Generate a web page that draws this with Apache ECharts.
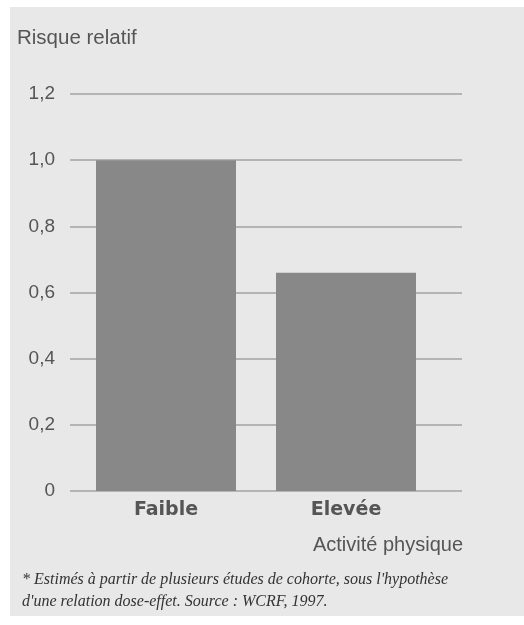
<!DOCTYPE html>
<html>
<head>
<meta charset="utf-8">
<script src="https://cdn.jsdelivr.net/npm/echarts@6/dist/echarts.min.js"></script>
<style>
html,body{margin:0;padding:0;background:#ffffff;}
#c{width:524px;height:625px;}
</style>
</head>
<body>
<div id="c"></div>
<script>
var categories = ['Faible', 'Elevée'];
var risqueRelatif = [1.0, 0.66];
var yMin = 0, yMax = 1.2, yStep = 0.2;
var yTitle = 'Risque relatif';
var xTitle = 'Activité physique';
var footLines = [
  "* Estimés à partir de plusieurs études de cohorte, sous l'hypothèse",
  "d'une relation dose-effet. Source : WCRF, 1997."
];

var chart = echarts.init(document.getElementById('c'), null, {renderer: 'canvas'});
var sans = '"Liberation Sans", Arial, sans-serif';
var serif = '"Liberation Serif", "Times New Roman", serif';
var fmt = function (v) { return v === 0 ? '0' : v.toFixed(1).replace('.', ','); };

chart.setOption({
  backgroundColor: '#ffffff',
  animation: false,
  graphic: [
    {type: 'rect', z: -10, shape: {x: 10, y: 7, width: 514, height: 609}, style: {fill: '#e8e8e8'}},
    {type: 'text', left: 17, top: 28, style: {text: yTitle, font: '20.5px ' + sans, fill: '#555555'}},
    {type: 'text', right: 61, top: 535, style: {text: xTitle, font: '20px ' + sans, fill: '#555555'}},
    {type: 'text', left: 22, top: 572, style: {text: footLines[0], font: 'italic 16px ' + serif, fill: '#333333'}},
    {type: 'text', left: 22, top: 594, style: {text: footLines[1], font: 'italic 16px ' + serif, fill: '#333333'}}
  ],
  grid: [
    {left: 70, right: 62, top: 94, height: 397},
    {left: 76, width: 360, top: 94, height: 397}
  ],
  xAxis: [
    {type: 'category', gridIndex: 0, data: categories, show: false},
    {type: 'category', gridIndex: 1, data: categories,
     axisLine: {show: false}, axisTick: {show: false},
     axisLabel: {margin: 10, color: '#555555', fontFamily: 'DejaVu Sans', fontWeight: 'bold', fontSize: 19}}
  ],
  yAxis: [
    {type: 'value', gridIndex: 0, min: yMin, max: yMax, interval: yStep,
     axisLine: {show: false}, axisTick: {show: false},
     axisLabel: {margin: 15, color: '#555555', fontFamily: sans, fontSize: 19, formatter: fmt},
     splitLine: {show: true, lineStyle: {color: '#a3a3a3', width: 1.5}}},
    {type: 'value', gridIndex: 1, min: yMin, max: yMax, interval: yStep, show: false,
     splitLine: {show: false}}
  ],
  series: [
    {type: 'bar', xAxisIndex: 1, yAxisIndex: 1, data: risqueRelatif, barWidth: 140,
     itemStyle: {color: '#888888'}, z: 5}
  ]
});
</script>
</body>
</html>
